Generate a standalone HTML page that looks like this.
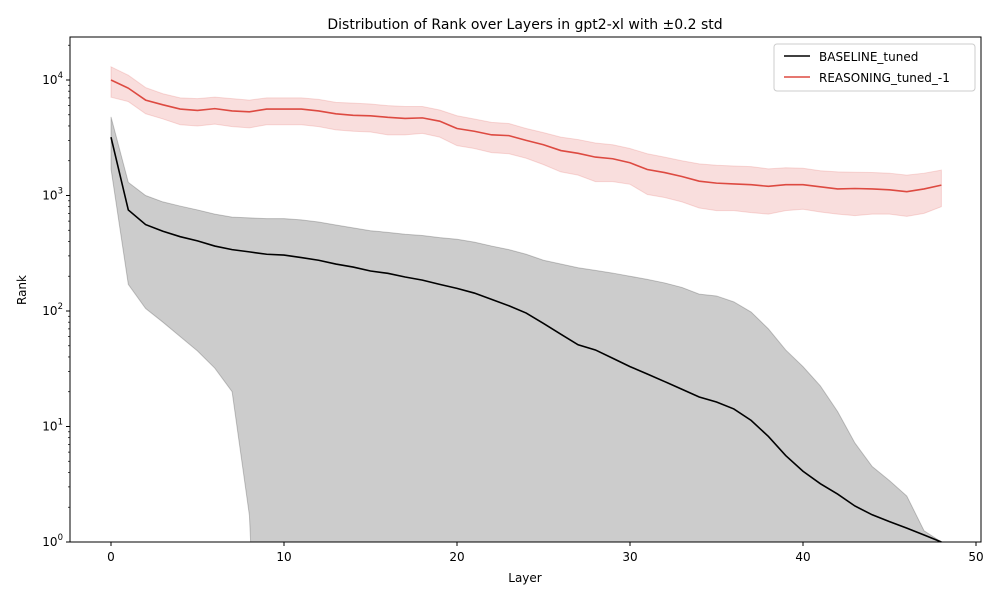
<!DOCTYPE html>
<html><head><meta charset="utf-8"><style>
html,body{margin:0;padding:0;background:#fff;overflow:hidden;width:1000px;height:600px;font-family:"Liberation Sans","DejaVu Sans",sans-serif}
svg{display:block;overflow:hidden}
text{font-family:"DejaVu Sans","Liberation Sans",sans-serif}
</style></head><body>
<svg id="chart" width="1000" height="600" xmlns="http://www.w3.org/2000/svg"></svg>
<script>
const layers=[...Array(49).keys()];
const baseMean=[3200,750,560,490,440,405,365,340,325,310,305,290,275,255,240,222,212,197,185,170,157,143,126,111,96,78,63,51,46,39,33,28.5,24.5,21,18,16.3,14.2,11.3,8.2,5.6,4.1,3.2,2.6,2.05,1.72,1.5,1.32,1.15,1.0];
const baseUpper=[4800,1300,1000,880,810,750,690,650,640,630,630,615,590,555,525,495,480,462,450,432,418,395,365,340,310,275,255,237,225,213,200,188,175,160,140,135,120,98,70,46,33,22.5,13.5,7.2,4.5,3.4,2.5,1.25,1.0];
const baseLower=[1700,170,105,80,60,45,32,20,1.7,0.001,0.001,0.001,0.001,0.001,0.001,0.001,0.001,0.001,0.001,0.001,0.001,0.001,0.001,0.001,0.001,0.001,0.001,0.001,0.001,0.001,0.001,0.001,0.001,0.001,0.001,0.001,0.001,0.001,0.001,0.001,0.001,0.001,0.001,0.001,0.001,0.001,0.001,0.001,0.5];
const reasMean=[10000,8500,6700,6100,5600,5450,5650,5400,5300,5600,5600,5600,5400,5100,4950,4900,4750,4650,4700,4400,3800,3600,3350,3300,3000,2750,2450,2320,2150,2080,1920,1680,1580,1460,1330,1280,1260,1240,1200,1240,1240,1190,1140,1150,1140,1120,1080,1140,1230];
const reasUpper=[13000,11000,8600,7600,7000,6900,7100,6900,6700,7000,7000,7000,6800,6400,6300,6200,6000,5900,5900,5500,4900,4600,4300,4200,3800,3500,3200,3050,2850,2750,2550,2300,2150,2000,1880,1830,1800,1780,1700,1740,1720,1640,1600,1590,1580,1560,1500,1560,1660];
const reasLower=[7100,6500,5100,4600,4100,4000,4150,3950,3850,4100,4100,4100,3950,3700,3600,3550,3350,3350,3450,3200,2700,2550,2350,2300,2100,1850,1600,1500,1320,1320,1250,1020,960,880,780,740,740,710,690,740,760,720,690,670,690,690,660,700,800];
const xTicks=[0,10,20,30,40,50];
const yTicks=[0,1,2,3,4];

const L=70,R=981,T=37,B=542;
const X=v=>111+v*17.3;
const Y=v=>542-Math.log10(Math.max(v,1e-6))*115.5;
const svg=document.getElementById('chart');
const NS='http://www.w3.org/2000/svg';
function el(t,a,p){const e=document.createElementNS(NS,t);for(const k in a)e.setAttribute(k,a[k]);(p||svg).appendChild(e);return e;}
// clip a polyline at y<=B by inserting intersection points
function clipPts(pts){
 const out=[];
 for(let i=0;i<pts.length;i++){
  const [x,y]=pts[i];
  if(i>0){const [px,py]=pts[i-1];
   if((py<=B)!==(y<=B)){const f=(B-py)/(y-py);out.push([px+f*(x-px),B]);}}
  out.push([x,Math.min(y,B)]);
 }
 return out;
}
function band(up,lo,fill,stroke,name){
 const top=clipPts(layers.map(i=>[X(i),Y(up[i])]));
 const bot=clipPts(layers.map(i=>[X(i),Y(lo[i])])).reverse();
 const d='M'+top.concat(bot).map(p=>p[0].toFixed(2)+','+p[1].toFixed(2)).join('L')+'Z';
 const p=el('path',{d,fill,stroke,'stroke-width':1});
 
 
}
function line(m,c,name){
 const p=el('path',{d:'M'+layers.map(i=>X(i)+','+Math.min(Y(m[i]),B)).join('L'),fill:'none',stroke:c,'stroke-width':1.6});
 
 
}
band(baseUpper,baseLower,'rgba(0,0,0,0.2)','rgba(0,0,0,0.2)','baseline-std-band');
band(reasUpper,reasLower,'rgba(221,72,64,0.18)','rgba(221,72,64,0.18)','reasoning-std-band');
line(baseMean,'#000','baseline-line');
line(reasMean,'#dd4a41','reasoning-line');
const frame=el('rect',{x:L,y:T,width:R-L,height:B-T,fill:'none',stroke:'#000','stroke-width':1});

xTicks.forEach(t=>{el('line',{x1:X(t),x2:X(t),y1:B,y2:B+4,stroke:'#000'});
 const tx=el('text',{x:X(t),y:B+19,'font-size':12,'text-anchor':'middle'});tx.textContent=t;
 });
yTicks.forEach(t=>{const y=Y(Math.pow(10,t));el('line',{x1:L-4,x2:L,y1:y,y2:y,stroke:'#000'});
 const tx=el('text',{x:L-7,y:y+4,'font-size':12,'text-anchor':'end'});tx.innerHTML='10<tspan dy="-6" font-size="8.5">'+t+'</tspan>';
 
 for(let k=2;k<10;k++){const yy=Y(k*Math.pow(10,t));if(yy>T)el('line',{x1:L-2,x2:L,y1:yy,y2:yy,stroke:'#000','stroke-width':0.7});}});
let t1=el('text',{x:525,y:29,'font-size':14,'text-anchor':'middle'});t1.textContent='Distribution of Rank over Layers in gpt2-xl with ±0.2 std';

let t2=el('text',{x:525,y:582,'font-size':12,'text-anchor':'middle'});t2.textContent='Layer';

let t3=el('text',{x:26,y:290,'font-size':12,'text-anchor':'middle',transform:'rotate(-90 26 290)'});t3.textContent='Rank';

const lg=el('g',{});
el('rect',{x:774,y:44,width:201,height:47,rx:3,fill:'#fff',stroke:'#ccc'},lg);
el('line',{x1:784,x2:810,y1:56,y2:56,stroke:'#000','stroke-width':1.6},lg);
el('line',{x1:784,x2:810,y1:77,y2:77,stroke:'#dd4a41','stroke-width':1.6},lg);
let l1=el('text',{x:819,y:61,'font-size':12},lg);l1.textContent='BASELINE_tuned';

let l2=el('text',{x:819,y:82,'font-size':12},lg);l2.textContent='REASONING_tuned_-1';

</script>
</body></html>
